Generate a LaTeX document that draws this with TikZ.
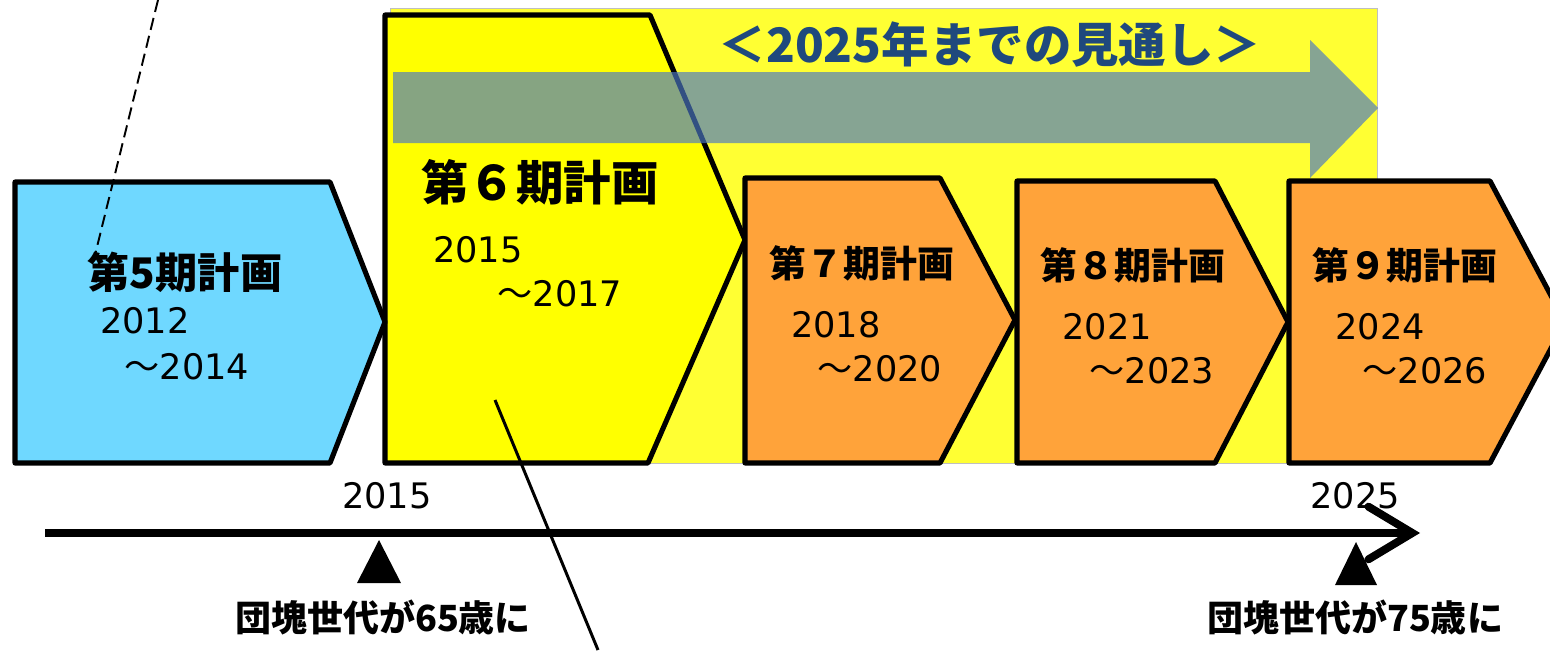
\documentclass[tikz,border=0pt]{standalone}
\usepackage{fontspec}
\setmainfont{DejaVu Sans}
\newfontfamily\jp{Noto Sans CJK JP}
\usetikzlibrary{arrows.meta}
\definecolor{planblue}{RGB}{111,216,255}
\definecolor{planyellow}{RGB}{255,255,0}
\definecolor{backyellow}{RGB}{255,255,51}
\definecolor{planorange}{RGB}{255,163,58}
\definecolor{arrowblue}{RGB}{75,120,195}
\definecolor{titleblue}{RGB}{31,73,125}
\tikzset{
 plan/.style={draw=black,line width=2.9pt,line join=round},
 plantitle/.style={font=\jp\bfseries\fontsize{21}{21}\selectfont},
 year/.style={font=\fontsize{20}{20}\selectfont},
 note/.style={font=\jp\bfseries\fontsize{20.5}{20.5}\selectfont}
}
\begin{document}
\begin{tikzpicture}[x=0.02cm,y=-0.02cm]
 \useasboundingbox (0,0) rectangle (1550,650);
 \clip (0,0) rectangle (1550,650);
 % outlook area
 \fill[backyellow,draw=black!25,line width=0.4pt] (390,8) rectangle (1377,463);
 \fill[planyellow,plan] (385,15) -- (650,15) -- (745,240) -- (648,463) -- (385,463) -- cycle;
 \fill[arrowblue,fill opacity=0.67] (393,72) -- (1310,72) -- (1310,40) -- (1378,108)
   -- (1310,178) -- (1310,143) -- (393,143) -- cycle;
 % plans
 \fill[planorange,plan] (745,178) -- (940,178) -- (1015,320) -- (940,463) -- (745,463) -- cycle;
 \fill[planorange,plan] (1017,181) -- (1215,181) -- (1288,322) -- (1215,463) -- (1017,463) -- cycle;
 \fill[planorange,plan] (1289,181) -- (1490,181) -- (1565,322) -- (1490,463) -- (1289,463) -- cycle;
 \fill[planblue,plan] (15,182) -- (330,182) -- (385,322) -- (330,463) -- (15,463) -- cycle;

 \node[font=\jp\bfseries\fontsize{27}{27}\selectfont,text=titleblue] (outlook) at (990,45) {＜2025年までの見通し＞};

 \node[plantitle,font=\jp\bfseries\fontsize{24}{24}\selectfont] (p5title) at (185,272) {第5期計画};
 \node[year] (p5from) at (145,321) {2012};
 \node[year] (p5to) at (187,367) {{\jp ～}2014};

 \node[plantitle,font=\jp\bfseries\fontsize{27}{27}\selectfont] (p6title) at (540,182) {第６期計画};
 \node[year] (p6from) at (478,250) {2015};
 \node[year] (p6to) at (560,294) {{\jp ～}2017};

 \node[plantitle] (p7title) at (862,263) {第７期計画};
 \node[year] (p7from) at (836,325) {2018};
 \node[year] (p7to) at (880,369) {{\jp ～}2020};

 \node[plantitle] (p8title) at (1133,265) {第８期計画};
 \node[year] (p8from) at (1107,327) {2021};
 \node[year] (p8to) at (1152,371) {{\jp ～}2023};

 \node[plantitle] (p9title) at (1405,265) {第９期計画};
 \node[year] (p9from) at (1380,327) {2024};
 \node[year] (p9to) at (1425,371) {{\jp ～}2026};

 % time axis
 \coordinate (axisstart) at (45,533);
 \coordinate (axisend) at (1420,533);
 \draw[line width=4.5pt,-{Straight Barb[length=25pt,width=30pt,line cap=round]}] (axisstart) -- (axisend);
 \node[year] (y2015) at (387,496) {2015};
 \node[year] (y2025) at (1355,496) {2025};
 \fill (379,540) -- (401,583) -- (357,583) -- cycle;
 \fill (1356,542) -- (1377,585) -- (1335,585) -- cycle;
 \node[note] (age65) at (383,617) {団塊世代が65歳に};
 \node[note] (age75) at (1355,617) {団塊世代が75歳に};

 % pointer lines
 \coordinate (dashtop) at (158,0);
 \coordinate (dashend) at (95,255);
 \draw[dash pattern=on 7pt off 3.5pt,line width=1.1pt] (dashtop) -- (dashend);
 \coordinate (linetop) at (495,400);
 \coordinate (lineend) at (598,650);
 \draw[line width=1.7pt] (linetop) -- (lineend);
\end{tikzpicture}
\end{document}
